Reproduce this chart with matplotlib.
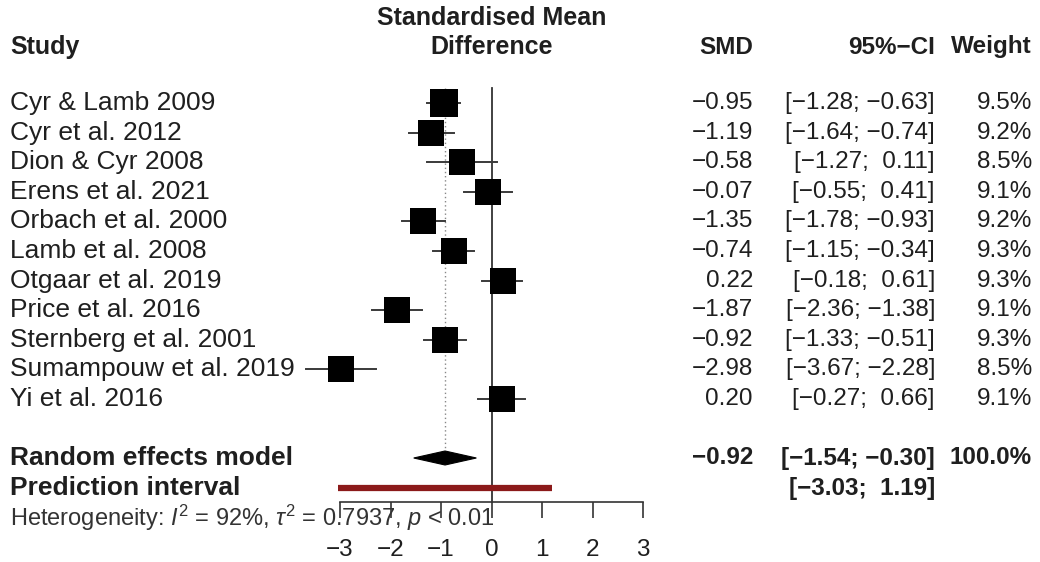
import matplotlib
matplotlib.use("Agg")
import matplotlib.pyplot as plt
import matplotlib.transforms as mtransforms
from matplotlib.patches import Polygon

# ---------------- data ----------------
studies = ["Cyr & Lamb 2009", "Cyr et al. 2012", "Dion & Cyr 2008", "Erens et al. 2021",
           "Orbach et al. 2000", "Lamb et al. 2008", "Otgaar et al. 2019", "Price et al. 2016",
           "Sternberg et al. 2001", "Sumampouw et al. 2019", "Yi et al. 2016"]
smd = [-0.95, -1.19, -0.58, -0.07, -1.35, -0.74, 0.22, -1.87, -0.92, -2.98, 0.20]
ci_lower = [-1.28, -1.64, -1.27, -0.55, -1.78, -1.15, -0.18, -2.36, -1.33, -3.67, -0.27]
ci_upper = [-0.63, -0.74, 0.11, 0.41, -0.93, -0.34, 0.61, -1.38, -0.51, -2.28, 0.66]
weights = [9.5, 9.2, 8.5, 9.1, 9.2, 9.3, 9.3, 9.1, 9.3, 8.5, 9.1]

pooled_smd = -0.92
pooled_lower = -1.54
pooled_upper = -0.30
pooled_weight = 100.0
pred_lower = -3.03
pred_upper = 1.19
het_i2 = 92
het_tau2 = 0.7937
het_p = "< 0.01"
x_ticks = [-3, -2, -1, 0, 1, 2, 3]

# ---------------- style ----------------
FONT = "Liberation Sans"
plt.rcParams["font.family"] = [FONT, "DejaVu Sans"]
plt.rcParams["mathtext.fontset"] = "custom"
plt.rcParams["mathtext.rm"] = FONT
plt.rcParams["mathtext.it"] = FONT + ":italic"
plt.rcParams["mathtext.bf"] = FONT + ":bold"
FS_LEFT = 19
FS_HEAD = 18
FS_RIGHT = 17.5
FS_TICK = 17.5
FS_HET = 17
TXT = "#1f1f1f"

W, H = 1040, 562
fig = plt.figure(figsize=(W / 100, H / 100), dpi=100)
fig.patch.set_facecolor("white")

# forest axes: x in SMD units, y in "row" units (pixel-like, top = 0)
x_left_px, x_right_px = 340, 643
ax = fig.add_axes([x_left_px / W, 0, (x_right_px - x_left_px) / W, 1])
ax.set_xlim(-3, 3)
ax.set_ylim(H, 0)
ax.patch.set_alpha(0)
for s in ["top", "left", "right"]:
    ax.spines[s].set_visible(False)

row0, row_step = 103, 29.6
rows = [row0 + i * row_step for i in range(len(studies))]
y_pooled = 458
y_pred = 488
y_axis = 502

ax.spines["bottom"].set_position(("data", y_axis))
ax.spines["bottom"].set_bounds(-3, 3)
ax.spines["bottom"].set_color("#333333")
ax.spines["bottom"].set_linewidth(1.2)
ax.set_xticks(x_ticks)
ax.set_xticklabels([str(t).replace("-", "\u2212") for t in x_ticks])
ax.tick_params(axis="x", direction="out", length=11.5, width=1.2, color="#333333",
               labelsize=FS_TICK, labelcolor=TXT, pad=15)
ax.set_yticks([])

# reference lines
ax.plot([0, 0], [88, y_axis], color="#333333", lw=1.3, zorder=1)
ax.plot([pooled_smd, pooled_smd], [88, y_pooled - 7], color="#888888", lw=1.0,
        linestyle=(0, (1, 2)), zorder=1)

# study CIs and squares
max_w = max(weights)
for y, m, lo, hi, w in zip(rows, smd, ci_lower, ci_upper, weights):
    ax.plot([lo, hi], [y, y], color="#3a3a3a", lw=1.4, zorder=2, clip_on=False)
    side_pt = 19.5 * (w / max_w) ** 0.5
    ax.scatter([m], [y], marker="s", s=side_pt ** 2, color="black", zorder=3,
               linewidths=0, clip_on=False)

# pooled diamond
half_h = 7
ax.add_patch(Polygon([(pooled_lower, y_pooled), (pooled_smd, y_pooled - half_h),
                      (pooled_upper, y_pooled), (pooled_smd, y_pooled + half_h)],
                     closed=True, facecolor="black", edgecolor="black", lw=0.8, zorder=3))

# prediction interval
ax.plot([pred_lower, pred_upper], [y_pred, y_pred], color="#8b1a1a", lw=4.5,
        solid_capstyle="butt", zorder=2, clip_on=False)

# ---------------- text columns ----------------
tr = mtransforms.blended_transform_factory(fig.transFigure, ax.transData)


def put(xpx, y, s, ha="left", bold=False, size=FS_RIGHT, color=TXT):
    fig.text(xpx / W, y, s, transform=tr, ha=ha, va="center", fontsize=size,
             fontweight="bold" if bold else "normal", color=color)


def num(v):
    return f"{v:.2f}".replace("-", "\u2212")


def fmt_ci(lo, hi):
    lo_s, hi_s = num(lo), num(hi)
    if not hi_s.startswith("\u2212"):
        hi_s = " " + hi_s
    if not lo_s.startswith("\u2212"):
        lo_s = " " + lo_s
    return f"[{lo_s}; {hi_s}]"


X_STUDY, X_SMD, X_CI, X_W = 10, 753, 935, 1032
x_zero_fig = ax.transData.transform((0, 0))[0] / W

# headers
put(X_STUDY, 47, "Study", bold=True, size=FS_HEAD)
fig.text(x_zero_fig, 18, "Standardised Mean", transform=tr, ha="center", va="center",
         fontsize=FS_HEAD, fontweight="bold", color=TXT)
fig.text(x_zero_fig, 47, "Difference", transform=tr, ha="center", va="center",
         fontsize=FS_HEAD, fontweight="bold", color=TXT)
put(X_SMD, 47, "SMD", ha="right", bold=True, size=FS_RIGHT)
put(X_CI, 47, "95%\u2212CI", ha="right", bold=True, size=FS_RIGHT)
put(X_W, 47, "Weight", ha="right", bold=True, size=FS_RIGHT)

for y, name, m, lo, hi, w in zip(rows, studies, smd, ci_lower, ci_upper, weights):
    put(X_STUDY, y, name, size=FS_LEFT)
    put(X_SMD, y, num(m), ha="right")
    put(X_CI, y, fmt_ci(lo, hi), ha="right")
    put(X_W, y, f"{w:.1f}%", ha="right")

put(X_STUDY, y_pooled, "Random effects model", bold=True, size=FS_LEFT)
put(X_SMD, y_pooled, num(pooled_smd), ha="right", bold=True)
put(X_CI, y_pooled, fmt_ci(pooled_lower, pooled_upper), ha="right", bold=True)
put(X_W, y_pooled, f"{pooled_weight:.1f}%", ha="right", bold=True)

put(X_STUDY, y_pred, "Prediction interval", bold=True, size=FS_LEFT)
put(X_CI, y_pred, fmt_ci(pred_lower, pred_upper), ha="right", bold=True)

het = (r"Heterogeneity: $I^2$ = " + f"{het_i2}%, " + r"$\tau^2$ = " + f"{het_tau2:.4f}, "
       + r"$p$ " + het_p)
put(X_STUDY, 518, het, size=FS_HET, color="#333333")

fig.savefig("out.png", dpi=100, facecolor="white")
